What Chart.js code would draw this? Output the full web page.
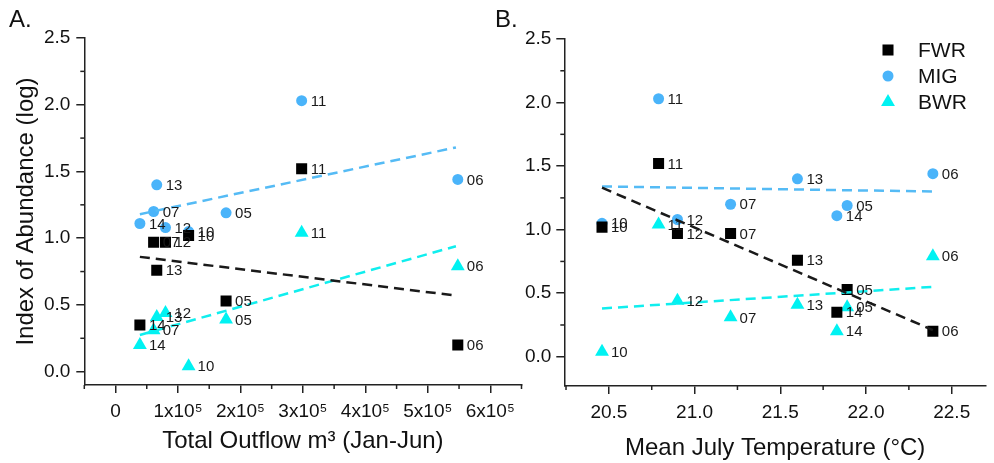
<!DOCTYPE html>
<html><head><meta charset="utf-8">
<script src="https://cdn.jsdelivr.net/npm/chart.js@4"></script>
<style>
html,body{margin:0;padding:0;background:#fff}
body{width:994px;height:463px;overflow:hidden;position:relative}
#wa{position:absolute;left:0;top:0;width:530px;height:463px}
#wb{position:absolute;left:490px;top:0;width:504px;height:463px}
</style></head>
<body>
<div id="wa"><canvas id="ca"></canvas></div>
<div id="wb"><canvas id="cb"></canvas></div>
<script>
// ---------------- data ----------------
const years = ['05','06','07','10','11','12','13','14'];
const outflow = [177000, 548000, 61000, 117000, 298000, 80000, 66000, 39000];
const julyTemp = [21.89, 22.39, 21.21, 20.46, 20.79, 20.90, 21.60, 21.83];
const fwr = [0.53, 0.20, 0.97, 1.02, 1.52, 0.97, 0.76, 0.35];
const mig = [1.19, 1.44, 1.20, 1.05, 2.03, 1.08, 1.40, 1.11];
const bwr = [0.39, 0.79, 0.31, 0.04, 1.04, 0.44, 0.41, 0.20];
const seriesNames = ['FWR', 'MIG', 'BWR'];

// dashed regression lines (end points)
const fitOutflowX = [39000, 545000];
const fitOutflowFWR = [0.86, 0.57];
const fitOutflowMIG = [1.18, 1.68];
const fitOutflowBWR = [0.275, 0.94];
const fitTempX = [20.46, 22.39];
const fitTempFWR = [1.33, 0.21];
const fitTempMIG = [1.34, 1.30];
const fitTempBWR = [0.38, 0.55];

// tick labels
const abundanceTickValues = [0, 0.5, 1.0, 1.5, 2.0, 2.5];
const abundanceTickLabels = ['0.0', '0.5', '1.0', '1.5', '2.0', '2.5'];
const outflowTickValues = [0, 100000, 200000, 300000, 400000, 500000, 600000];
const outflowTickLabels = ['0', '1x10⁵', '2x10⁵', '3x10⁵', '4x10⁵', '5x10⁵', '6x10⁵'];
const tempTickValues = [20.5, 21.0, 21.5, 22.0, 22.5];
const tempTickLabels = ['20.5', '21.0', '21.5', '22.0', '22.5'];

// ---------------- styles ----------------
const FONT = '"Liberation Sans", Arial, Helvetica, sans-serif';
const AXIS = '#222';
const TXT = '#111';
const C_FWR = '#000000', C_MIG = '#4AB4FA', C_BWR = '#00F2F2';
const L_FWR = '#1a1a1a', L_MIG = '#55BBF5', L_BWR = '#10EEEE';
const styles = [
  {name: seriesNames[0], color: C_FWR, line: L_FWR, pointStyle: 'rect', radius: 7.8},
  {name: seriesNames[1], color: C_MIG, line: L_MIG, pointStyle: 'circle', radius: 5.5},
  {name: seriesNames[2], color: C_BWR, line: L_BWR, pointStyle: 'triangle', radius: 8}
];
const MAJOR_LEN = 8, MINOR_LEN = 4;

// ---------------- plugins ----------------
const minorTicks = {
  id: 'minorTicks',
  afterDraw(chart, args, opts) {
    const ctx = chart.ctx;
    ctx.save();
    ctx.strokeStyle = AXIS; ctx.lineWidth = 1.5;
    for (const id of ['x', 'y']) {
      const s = chart.scales[id];
      const step = opts[id];
      const start = Math.ceil((s.min - 1e-9) / step);
      for (let k = start; k * step <= s.max + 1e-9; k++) {
        if (Math.abs(k % 2) === 0) continue;
        const p = s.getPixelForValue(k * step);
        ctx.beginPath();
        if (id === 'x') { ctx.moveTo(p, s.top); ctx.lineTo(p, s.top + MINOR_LEN); }
        else { ctx.moveTo(s.right, p); ctx.lineTo(s.right - MINOR_LEN, p); }
        ctx.stroke();
      }
    }
    ctx.restore();
  }
};

const pointText = {
  id: 'pointText',
  afterDatasetsDraw(chart) {
    const ctx = chart.ctx;
    ctx.save();
    ctx.font = '15px ' + FONT;
    ctx.fillStyle = '#1a1a1a';
    ctx.textAlign = 'left';
    ctx.textBaseline = 'middle';
    chart.data.datasets.forEach((ds, di) => {
      if (!ds.pointText) return;
      const meta = chart.getDatasetMeta(di);
      meta.data.forEach((el, i) => {
        ctx.fillText(ds.pointText[i], el.x + 9, el.y + 1);
      });
    });
    ctx.restore();
  }
};

function drawMarker(ctx, style, r, x, y) {
  ctx.beginPath();
  if (style === 'rect') {
    const s = Math.SQRT1_2 * r;
    ctx.rect(x - s, y - s, 2 * s, 2 * s);
  } else if (style === 'circle') {
    ctx.arc(x, y, r, 0, Math.PI * 2);
  } else {
    ctx.moveTo(x, y - r);
    ctx.lineTo(x + r * Math.sin(2 * Math.PI / 3), y - r * Math.cos(2 * Math.PI / 3));
    ctx.lineTo(x + r * Math.sin(4 * Math.PI / 3), y - r * Math.cos(4 * Math.PI / 3));
    ctx.closePath();
  }
  ctx.fill();
}

const decor = {
  id: 'decor',
  afterDraw(chart, args, opts) {
    const ctx = chart.ctx;
    ctx.save();
    ctx.fillStyle = TXT;
    ctx.font = '24px ' + FONT;
    ctx.textBaseline = 'alphabetic';
    ctx.textAlign = 'left';
    ctx.fillText(opts.letter, opts.letterX, opts.letterY);
    if (opts.legend) {
      const L = opts.legend;
      ctx.font = '21px ' + FONT;
      ctx.textBaseline = 'middle';
      styles.forEach((st, i) => {
        const y = L.y + i * L.gap;
        ctx.fillStyle = st.color;
        drawMarker(ctx, st.pointStyle, st.radius, L.x, y);
        ctx.fillStyle = TXT;
        ctx.fillText(st.name, L.textX, y + 1);
      });
    }
    ctx.restore();
  }
};

// ---------------- builders ----------------
function buildDatasets(xs, fitX, fits) {
  const series = [fwr, mig, bwr];
  const ds = [];
  series.forEach((vals, si) => {
    const st = styles[si];
    ds.push({
      type: 'scatter',
      label: st.name,
      data: xs.map((x, i) => ({x: x, y: vals[i]})),
      pointStyle: st.pointStyle,
      pointRadius: st.radius,
      pointBackgroundColor: st.color,
      pointBorderWidth: 0,
      pointBorderColor: st.color,
      pointText: years,
      order: 2
    });
  });
  fits.forEach((f, si) => {
    const st = styles[si];
    ds.push({
      type: 'line',
      label: st.name + ' fit',
      data: fitX.map((x, i) => ({x: x, y: f[i]})),
      borderColor: st.line,
      borderWidth: 2.5,
      borderDash: [10, 6],
      pointRadius: 0,
      fill: false,
      order: 1
    });
  });
  return ds;
}

function axisCommon() {
  return {
    grid: {drawOnChartArea: false, drawTicks: true, tickLength: MAJOR_LEN, color: AXIS, lineWidth: 1.5},
    border: {display: true, color: AXIS, width: 1.5}
  };
}

function makeChart(id, o) {
  return new Chart(document.getElementById(id), {
    data: {datasets: buildDatasets(o.xs, o.fitX, o.fits)},
    options: {
      responsive: true,
      maintainAspectRatio: false,
      animation: false,
      events: [],
      layout: {padding: o.padding},
      plugins: {
        legend: {display: false},
        tooltip: {enabled: false},
        minorTicks: o.minor,
        decor: o.decor
      },
      scales: {
        x: Object.assign(axisCommon(), {
          type: 'linear',
          position: 'bottom',
          min: o.xMin, max: o.xMax,
          afterBuildTicks: s => { s.ticks = o.xTickValues.map(v => ({value: v})); },
          afterFit: s => { s.height = o.xAxisHeight; },
          ticks: {
            autoSkip: false, maxRotation: 0, padding: 7, color: TXT,
            font: {family: FONT, size: 19},
            callback: (v, i) => o.xTickLabels[i]
          },
          title: {
            display: true, text: o.xTitle, color: TXT,
            font: {family: FONT, size: 24},
            padding: {top: 0, bottom: o.xTitlePad}
          }
        }),
        y: Object.assign(axisCommon(), {
          type: 'linear',
          position: 'left',
          min: o.yMin, max: 2.5,
          afterBuildTicks: s => { s.ticks = abundanceTickValues.map(v => ({value: v})); },
          afterFit: s => { s.width = o.yAxisWidth; },
          ticks: {
            autoSkip: false, padding: o.yTickPad, color: TXT,
            font: {family: FONT, size: 19},
            callback: (v, i) => abundanceTickLabels[i]
          },
          title: {
            display: !!o.yTitle, text: o.yTitle || '', color: TXT,
            font: {family: FONT, size: 24},
            padding: {top: 12, bottom: 0}
          }
        })
      }
    },
    plugins: [minorTicks, pointText, decor]
  });
}

makeChart('ca', {
  xs: outflow, fitX: fitOutflowX, fits: [fitOutflowFWR, fitOutflowMIG, fitOutflowBWR],
  padding: {top: 38, right: 8.5, bottom: 0, left: 0},
  xMin: -50000, xMax: 650000,
  xTickValues: outflowTickValues, xTickLabels: outflowTickLabels,
  xAxisHeight: 78, xTitle: 'Total Outflow m³ (Jan-Jun)', xTitlePad: 7,
  yMin: -0.1, yAxisWidth: 84.3, yTickPad: 6, yTitle: 'Index of Abundance (log)',
  minor: {x: 50000, y: 0.25},
  decor: {letter: 'A.', letterX: 9, letterY: 27}
});

makeChart('cb', {
  xs: julyTemp, fitX: fitTempX, fits: [fitTempFWR, fitTempMIG, fitTempBWR],
  padding: {top: 39, right: 0, bottom: 0, left: 0},
  xMin: 20.24, xMax: 22.7,
  xTickValues: tempTickValues, xTickLabels: tempTickLabels,
  xAxisHeight: 77, xTitle: 'Mean July Temperature (°C)', xTitlePad: 0,
  yMin: -0.23, yAxisWidth: 74.3, yTickPad: 5, yTitle: null,
  minor: {x: 0.25, y: 0.25},
  decor: {letter: 'B.', letterX: 5, letterY: 27,
          legend: {x: 398, textX: 428, y: 50, gap: 26}}
});
</script>
</body></html>
